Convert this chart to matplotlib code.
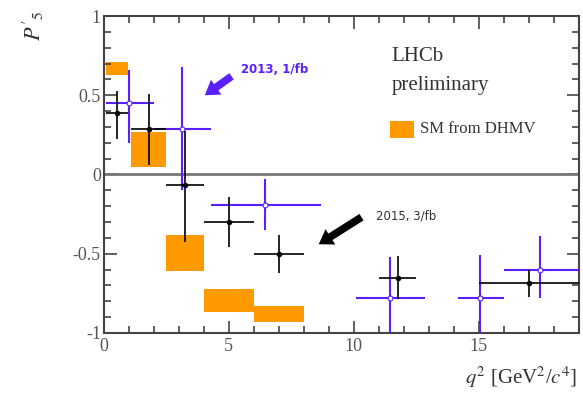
import matplotlib
matplotlib.use("Agg")
import matplotlib.pyplot as plt
import matplotlib.ticker as ticker
from matplotlib.patches import Rectangle

# LHCb 2015, 3/fb (black)
x15_lo = [0.1, 1.1, 2.5, 4.0, 6.0, 11.0, 15.0]
x15_hi = [0.98, 2.5, 4.0, 6.0, 8.0, 12.5, 19.0]
x15_pt = [0.52, 1.8, 3.25, 5.0, 7.0, 11.75, 17.0]
p5_15 = [0.387, 0.289, -0.066, -0.300, -0.505, -0.655, -0.684]
err15_up = [0.14, 0.22, 0.34, 0.16, 0.12, 0.14, 0.08]
err15_dn = [0.16, 0.23, 0.36, 0.16, 0.12, 0.13, 0.09]

# LHCb 2013, 1/fb (blue)
x13_lo = [0.1, 2.0, 4.3, 10.09, 14.18, 16.0]
x13_hi = [2.0, 4.3, 8.68, 12.86, 16.0, 19.0]
x13_pt = [1.0, 3.12, 6.46, 11.45, 15.04, 17.44]
p5_13 = [0.45, 0.29, -0.19, -0.78, -0.78, -0.60]
err13_up = [0.21, 0.39, 0.16, 0.26, 0.27, 0.21]
err13_dn = [0.25, 0.39, 0.16, 0.30, 0.22, 0.18]

# SM prediction from DHMV (orange boxes)
sm_lo = [0.1, 1.1, 2.5, 4.0, 6.0]
sm_hi = [0.98, 2.5, 4.0, 6.0, 8.0]
sm_min = [0.63, 0.05, -0.61, -0.87, -0.93]
sm_max = [0.71, 0.27, -0.38, -0.72, -0.83]

blue = "#5a1eff"
orange = "#ff9900"
grey = "#444444"

plt.rcParams["font.family"] = ["Liberation Serif", "DejaVu Serif"]
plt.rcParams["mathtext.fontset"] = "stix"

fig = plt.figure(figsize=(5.83, 3.93), dpi=100)
ax = fig.add_axes([0.178, 0.153, 0.815, 0.806])

for lo, hi, a, b in zip(sm_lo, sm_hi, sm_min, sm_max):
    ax.add_patch(Rectangle((lo, a), hi - lo, b - a, facecolor=orange,
                           edgecolor="none", zorder=1))

ax.axhline(0, color="#777777", lw=2, zorder=2)

xe13 = [[p - l for p, l in zip(x13_pt, x13_lo)], [h - p for p, h in zip(x13_pt, x13_hi)]]
ax.errorbar(x13_pt, p5_13, xerr=xe13, yerr=[err13_dn, err13_up], fmt="o",
            color=blue, ms=3.5, mfc="white", mec=blue, mew=0.8,
            elinewidth=1.5, capsize=0, zorder=3)

xe15 = [[p - l for p, l in zip(x15_pt, x15_lo)], [h - p for p, h in zip(x15_pt, x15_hi)]]
ax.errorbar(x15_pt, p5_15, xerr=xe15, yerr=[err15_dn, err15_up], fmt="o",
            color="black", ms=3, elinewidth=1.2, capsize=0, zorder=4)

ax.set_xlim(0, 19)
ax.set_ylim(-1, 1)
ax.xaxis.set_major_locator(ticker.MultipleLocator(5))
ax.xaxis.set_minor_locator(ticker.MultipleLocator(1))
ax.yaxis.set_major_locator(ticker.MultipleLocator(0.5))
ax.yaxis.set_minor_locator(ticker.MultipleLocator(0.1))
ax.yaxis.set_major_formatter(ticker.FuncFormatter(lambda v, p: "%g" % v))
ax.tick_params(which="both", direction="in", top=True, right=True,
               color=grey, width=1.2, labelsize=13, labelcolor="#555555")
ax.tick_params(which="major", length=9)
ax.tick_params(which="minor", length=5)
ax.tick_params(axis="y", pad=2)
ax.tick_params(axis="x", pad=4)
for s in ax.spines.values():
    s.set_color(grey)
    s.set_linewidth(1.5)

ax.text(0.995, -0.10, r"$q^2$ [GeV$^2$/$c^4$]", transform=ax.transAxes,
        ha="right", va="top", fontsize=15, color="#333333")
fig.text(0.058, 0.935, r"$P'_5$", rotation=90, ha="center", va="center",
         fontsize=16, color="#333333")

ax.text(11.5, 0.745, "LHCb", fontsize=15, color="#333333", va="center")
ax.text(11.5, 0.56, "preliminary", fontsize=15, color="#333333", va="center")
ax.add_patch(Rectangle((11.45, 0.23), 0.95, 0.11, facecolor=orange, edgecolor="none"))
ax.text(12.65, 0.285, "SM from DHMV", fontsize=12, color="#333333", va="center")

ax.text(5.5, 0.66, "2013, 1/fb", fontsize=8.5, color=blue, fontweight="bold",
        family="DejaVu Sans", va="center")
ax.annotate("", xy=(3.95, 0.49), xytext=(5.2, 0.63),
            arrowprops=dict(arrowstyle="simple,head_width=1.3,head_length=1.0,tail_width=0.55",
                            color=blue, lw=0))
ax.text(10.9, -0.26, "2015, 3/fb", fontsize=8.5, color="#333333", family="DejaVu Sans",
        va="center")
ax.annotate("", xy=(8.5, -0.45), xytext=(10.4, -0.26),
            arrowprops=dict(arrowstyle="simple,head_width=1.3,head_length=1.0,tail_width=0.55",
                            color="black", lw=0))

fig.savefig("out.png", dpi=100)
